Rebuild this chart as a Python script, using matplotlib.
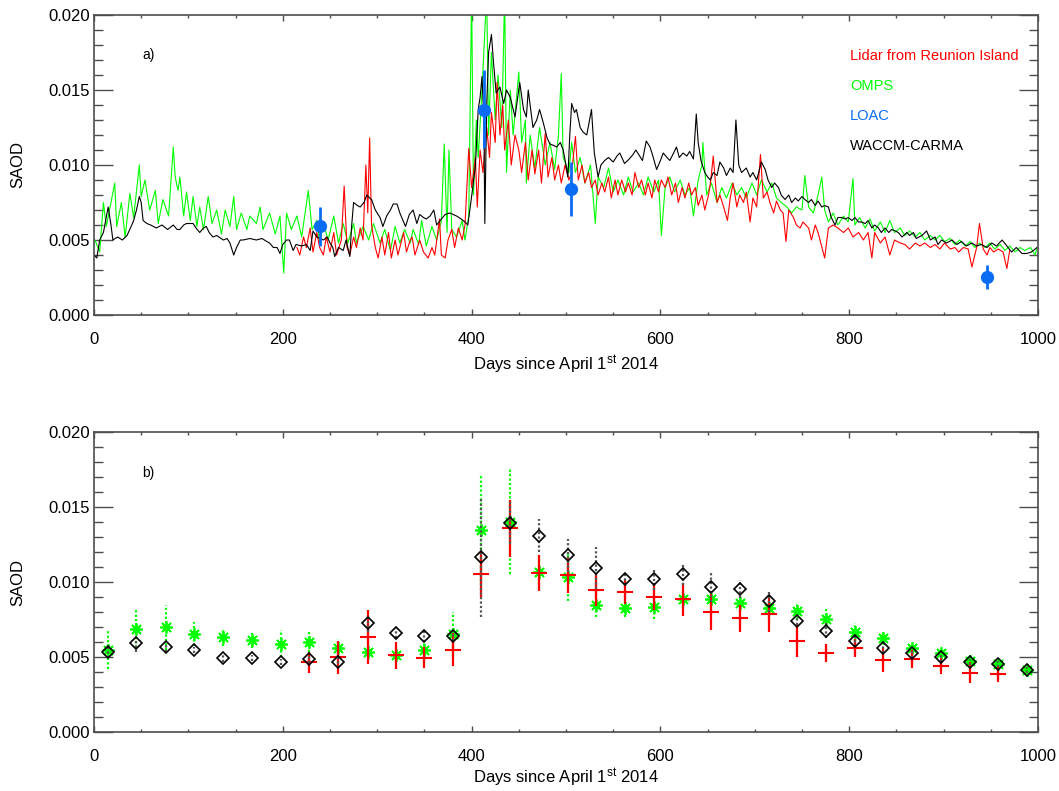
"""Recrea la figura de SAOD: a) series diarias, b) medias mensuales."""
import numpy as np
import matplotlib
matplotlib.use("Agg")
import matplotlib.pyplot as plt
from matplotlib.ticker import MultipleLocator, FormatStrFormatter

plt.rcParams["font.family"] = ["Liberation Sans", "DejaVu Sans"]
plt.rcParams["mathtext.default"] = "regular"

# ---------------- panel a) series diarias ----------------
OMPS_DAY = [1, 6, 10, 13, 22, 24, 29, 33, 38, 42, 48, 50, 54, 59, 65, 68, 73, 79, 84, 86,
            89, 91, 95, 98, 102, 105, 109, 112, 116, 121, 125, 130, 135, 139, 144, 148, 151,
            156, 162, 165, 172, 176, 179, 186, 192, 197, 201, 204, 209, 215, 220, 227, 231,
            236, 239, 243, 248, 254, 259, 264, 269, 275, 278, 285, 291, 296, 303, 308, 314,
            319, 324, 329, 335, 338, 344, 347, 352, 358, 363, 368, 371, 374, 376, 379, 384,
            390, 393, 397, 400, 402, 405, 407, 411, 416, 418, 421, 425, 428, 432, 435, 437,
            441, 444, 450, 453, 457, 458, 462, 467, 472, 478, 483, 488, 492, 495, 497, 503,
            506, 510, 515, 520, 526, 531, 534, 540, 545, 550, 555, 561, 566, 571, 577, 582,
            587, 593, 598, 601, 605, 610, 615, 621, 626, 631, 635, 640, 644, 645, 649, 654,
            660, 665, 670, 676, 681, 686, 691, 697, 702, 707, 713, 718, 723, 728, 734, 739,
            744, 750, 753, 757, 762, 767, 771, 774, 778, 783, 788, 794, 799, 804, 806, 811,
            817, 822, 827, 833, 838, 843, 848, 854, 859, 864, 870, 875, 880, 886, 891, 896,
            901, 907, 912, 917, 923, 928, 933, 938, 944, 949, 954, 960, 965, 970, 976, 981,
            986, 992, 997, 999]
OMPS_SAOD = [0.0050, 0.0042, 0.0075, 0.0059, 0.0088, 0.0059, 0.0075, 0.0052, 0.0081, 0.0065,
             0.0100, 0.0079, 0.0090, 0.0070, 0.0083, 0.0061, 0.0077, 0.0066, 0.0112, 0.0092,
             0.0083, 0.0092, 0.0066, 0.0082, 0.0063, 0.0079, 0.0059, 0.0072, 0.0057, 0.0079,
             0.0061, 0.0070, 0.0054, 0.0070, 0.0059, 0.0079, 0.0057, 0.0068, 0.0057, 0.0066,
             0.0061, 0.0072, 0.0057, 0.0068, 0.0054, 0.0066, 0.0028, 0.0068, 0.0057, 0.0066,
             0.0052, 0.0083, 0.0057, 0.0063, 0.0048, 0.0061, 0.0050, 0.0066, 0.0048, 0.0061,
             0.0048, 0.0061, 0.0048, 0.0059, 0.0050, 0.0061, 0.0048, 0.0057, 0.0043, 0.0059,
             0.0048, 0.0057, 0.0048, 0.0057, 0.0047, 0.0063, 0.0046, 0.0059, 0.0050, 0.0063,
             0.0114, 0.0055, 0.0110, 0.0057, 0.0052, 0.0063, 0.0050, 0.0066, 0.0215, 0.0080,
             0.0130, 0.0105, 0.0150, 0.0215, 0.0120, 0.0175, 0.0130, 0.0160, 0.0125, 0.0215,
             0.0095, 0.0150, 0.0120, 0.0162, 0.0115, 0.0130, 0.0088, 0.0120, 0.0098, 0.0125,
             0.0100, 0.0115, 0.0097, 0.0120, 0.0161, 0.0105, 0.0095, 0.0115, 0.0095, 0.0105,
             0.0088, 0.0100, 0.0061, 0.0092, 0.0085, 0.0098, 0.0082, 0.0090, 0.0080, 0.0092,
             0.0082, 0.0088, 0.0080, 0.0092, 0.0082, 0.0090, 0.0053, 0.0085, 0.0092, 0.0082,
             0.0090, 0.0080, 0.0085, 0.0066, 0.0090, 0.0100, 0.0115, 0.0080, 0.0088, 0.0075,
             0.0085, 0.0078, 0.0088, 0.0080, 0.0085, 0.0078, 0.0088, 0.0080, 0.0090, 0.0082,
             0.0088, 0.0078, 0.0075, 0.0072, 0.0068, 0.0072, 0.0070, 0.0093, 0.0072, 0.0068,
             0.0080, 0.0092, 0.0070, 0.0062, 0.0068, 0.0060, 0.0066, 0.0062, 0.0091, 0.0060,
             0.0065, 0.0058, 0.0064, 0.0056, 0.0062, 0.0055, 0.0063, 0.0055, 0.0058, 0.0053,
             0.0056, 0.0052, 0.0055, 0.0050, 0.0053, 0.0050, 0.0053, 0.0049, 0.0051, 0.0047,
             0.0050, 0.0046, 0.0049, 0.0045, 0.0048, 0.0045, 0.0048, 0.0044, 0.0047, 0.0043,
             0.0046, 0.0042, 0.0045, 0.0043, 0.0045, 0.0040, 0.0045]

LIDAR_DAY = [215, 218, 222, 225, 229, 232, 236, 239, 243, 246, 250, 254, 257, 262, 265, 268,
             271, 275, 278, 282, 285, 288, 290, 292, 294, 298, 301, 305, 308, 312, 315, 319,
             322, 328, 331, 335, 337, 340, 345, 349, 354, 358, 361, 366, 368, 372, 375, 379,
             382, 386, 390, 393, 397, 400, 404, 406, 409, 412, 416, 419, 421, 425, 427, 430,
             433, 435, 439, 442, 446, 450, 453, 457, 460, 464, 467, 471, 474, 478, 481, 485,
             488, 492, 495, 499, 503, 506, 510, 513, 517, 520, 524, 527, 531, 534, 538, 541,
             545, 548, 552, 555, 559, 563, 566, 570, 573, 577, 580, 584, 587, 591, 594, 598,
             601, 605, 608, 612, 616, 619, 623, 626, 630, 633, 637, 640, 644, 647, 651, 653,
             656, 660, 663, 667, 671, 674, 677, 681, 684, 688, 691, 695, 698, 702, 706, 709,
             713, 716, 720, 723, 727, 730, 733, 736, 741, 744, 748, 751, 757, 760, 764, 767,
             774, 778, 783, 788, 794, 799, 804, 810, 815, 820, 824, 827, 833, 838, 843, 848,
             854, 859, 864, 870, 875, 880, 886, 891, 896, 901, 907, 912, 916, 921, 926, 930,
             935, 938, 942, 946, 949, 953, 958, 963, 967, 970]
LIDAR_SAOD = [0.0045, 0.0040, 0.0052, 0.0045, 0.0058, 0.0042, 0.0055, 0.0045, 0.0040, 0.0052,
              0.0042, 0.0055, 0.0040, 0.0050, 0.0086, 0.0045, 0.0040, 0.0052, 0.0045, 0.0058,
              0.0050, 0.0100, 0.0068, 0.0118, 0.0060, 0.0045, 0.0038, 0.0052, 0.0040, 0.0055,
              0.0038, 0.0050, 0.0040, 0.0055, 0.0042, 0.0050, 0.0052, 0.0040, 0.0050, 0.0042,
              0.0038, 0.0045, 0.0040, 0.0064, 0.0040, 0.0038, 0.0050, 0.0057, 0.0045, 0.0058,
              0.0050, 0.0060, 0.0111, 0.0085, 0.0105, 0.0072, 0.0110, 0.0095, 0.0125, 0.0105,
              0.0135, 0.0115, 0.0155, 0.0120, 0.0140, 0.0110, 0.0130, 0.0100, 0.0120, 0.0110,
              0.0095, 0.0115, 0.0090, 0.0110, 0.0094, 0.0110, 0.0088, 0.0121, 0.0092, 0.0105,
              0.0090, 0.0100, 0.0088, 0.0100, 0.0090, 0.0095, 0.0119, 0.0090, 0.0100, 0.0088,
              0.0095, 0.0085, 0.0090, 0.0080, 0.0088, 0.0082, 0.0092, 0.0078, 0.0090, 0.0080,
              0.0090, 0.0082, 0.0088, 0.0080, 0.0095, 0.0085, 0.0090, 0.0080, 0.0088, 0.0078,
              0.0090, 0.0082, 0.0090, 0.0085, 0.0092, 0.0080, 0.0088, 0.0075, 0.0085, 0.0078,
              0.0088, 0.0080, 0.0085, 0.0073, 0.0080, 0.0070, 0.0080, 0.0088, 0.0106, 0.0075,
              0.0080, 0.0072, 0.0063, 0.0078, 0.0088, 0.0072, 0.0080, 0.0075, 0.0082, 0.0062,
              0.0078, 0.0072, 0.0107, 0.0078, 0.0082, 0.0075, 0.0068, 0.0076, 0.0070, 0.0068,
              0.0049, 0.0070, 0.0065, 0.0060, 0.0058, 0.0062, 0.0058, 0.0050, 0.0060, 0.0055,
              0.0038, 0.0058, 0.0060, 0.0058, 0.0055, 0.0058, 0.0052, 0.0055, 0.0050, 0.0055,
              0.0038, 0.0055, 0.0048, 0.0052, 0.0040, 0.0050, 0.0048, 0.0047, 0.0044, 0.0048,
              0.0046, 0.0048, 0.0045, 0.0047, 0.0044, 0.0048, 0.0044, 0.0045, 0.0042, 0.0045,
              0.0044, 0.0032, 0.0045, 0.0061, 0.0044, 0.0040, 0.0045, 0.0042, 0.0044, 0.0042,
              0.0031, 0.0043]

WACCM_DAY = [0, 3, 6, 10, 13, 15, 18, 20, 25, 30, 35, 40, 42, 45, 48, 50, 52, 56, 60, 66,
             72, 78, 84, 88, 91, 95, 98, 105, 108, 112, 116, 119, 122, 126, 130, 137, 141, 144,
             148, 151, 155, 158, 165, 172, 178, 183, 186, 190, 194, 197, 200, 204, 207, 211,
             214, 220, 225, 229, 232, 236, 243, 247, 250, 253, 255, 259, 264, 267, 271, 273,
             275, 279, 282, 286, 289, 292, 294, 298, 303, 306, 310, 314, 317, 321, 324, 326,
             330, 334, 338, 342, 345, 349, 352, 356, 360, 363, 368, 372, 377, 384, 389, 393,
             396, 400, 404, 407, 409, 411, 413, 414, 416, 418, 421, 423, 426, 430, 434, 437,
             441, 446, 451, 455, 458, 460, 465, 469, 472, 476, 480, 483, 487, 490, 494, 497,
             500, 502, 504, 506, 509, 511, 515, 518, 522, 525, 527, 530, 534, 537, 541, 545,
             550, 554, 557, 562, 567, 571, 574, 578, 581, 585, 589, 592, 596, 600, 603, 607,
             610, 614, 617, 620, 624, 628, 631, 635, 638, 640, 643, 647, 650, 653, 656, 660,
             663, 667, 670, 674, 677, 680, 683, 686, 691, 695, 698, 702, 707, 711, 714, 718,
             721, 725, 728, 732, 736, 739, 743, 746, 750, 753, 757, 760, 764, 767, 771, 774,
             778, 781, 785, 788, 792, 796, 799, 803, 806, 810, 813, 817, 820, 824, 827, 831,
             834, 838, 842, 845, 849, 852, 856, 861, 864, 868, 871, 877, 882, 886, 891, 894,
             898, 903, 909, 914, 919, 924, 930, 935, 940, 946, 951, 956, 962, 967, 972, 977,
             983, 988, 993, 999]
WACCM_SAOD = [0.0040, 0.0038, 0.0050, 0.0055, 0.0065, 0.0072, 0.0060, 0.0050, 0.0052, 0.0050,
              0.0053, 0.0060, 0.0063, 0.0070, 0.0079, 0.0075, 0.0063, 0.0061, 0.0060, 0.0058,
              0.0060, 0.0057, 0.0060, 0.0057, 0.0057, 0.0060, 0.0061, 0.0061, 0.0058, 0.0055,
              0.0058, 0.0059, 0.0055, 0.0052, 0.0053, 0.0050, 0.0051, 0.0048, 0.0040, 0.0045,
              0.0050, 0.0050, 0.0051, 0.0050, 0.0051, 0.0049, 0.0048, 0.0045, 0.0045, 0.0041,
              0.0047, 0.0050, 0.0050, 0.0043, 0.0047, 0.0046, 0.0047, 0.0043, 0.0056, 0.0052,
              0.0050, 0.0052, 0.0048, 0.0045, 0.0039, 0.0045, 0.0043, 0.0050, 0.0039, 0.0060,
              0.0075, 0.0073, 0.0072, 0.0075, 0.0080, 0.0078, 0.0077, 0.0070, 0.0065, 0.0059,
              0.0066, 0.0070, 0.0074, 0.0074, 0.0068, 0.0065, 0.0059, 0.0067, 0.0070, 0.0061,
              0.0067, 0.0065, 0.0064, 0.0066, 0.0070, 0.0060, 0.0064, 0.0067, 0.0068, 0.0066,
              0.0064, 0.0062, 0.0060, 0.0079, 0.0099, 0.0137, 0.0145, 0.0159, 0.0130, 0.0061,
              0.0140, 0.0175, 0.0187, 0.0170, 0.0148, 0.0152, 0.0141, 0.0150, 0.0145, 0.0132,
              0.0155, 0.0137, 0.0132, 0.0150, 0.0125, 0.0130, 0.0137, 0.0128, 0.0118, 0.0114,
              0.0113, 0.0112, 0.0115, 0.0110, 0.0100, 0.0092, 0.0120, 0.0141, 0.0135, 0.0137,
              0.0125, 0.0122, 0.0120, 0.0130, 0.0137, 0.0108, 0.0092, 0.0100, 0.0103, 0.0105,
              0.0102, 0.0106, 0.0108, 0.0101, 0.0104, 0.0107, 0.0110, 0.0106, 0.0103, 0.0116,
              0.0112, 0.0106, 0.0097, 0.0103, 0.0108, 0.0105, 0.0103, 0.0108, 0.0112, 0.0105,
              0.0108, 0.0106, 0.0109, 0.0104, 0.0134, 0.0115, 0.0103, 0.0095, 0.0092, 0.0090,
              0.0095, 0.0093, 0.0102, 0.0098, 0.0093, 0.0098, 0.0095, 0.0130, 0.0100, 0.0095,
              0.0098, 0.0092, 0.0095, 0.0090, 0.0102, 0.0097, 0.0090, 0.0085, 0.0088, 0.0085,
              0.0080, 0.0077, 0.0080, 0.0075, 0.0078, 0.0076, 0.0079, 0.0077, 0.0075, 0.0077,
              0.0073, 0.0076, 0.0072, 0.0073, 0.0072, 0.0065, 0.0060, 0.0065, 0.0065, 0.0064,
              0.0065, 0.0063, 0.0065, 0.0062, 0.0062, 0.0061, 0.0063, 0.0058, 0.0060, 0.0058,
              0.0055, 0.0058, 0.0055, 0.0057, 0.0056, 0.0055, 0.0052, 0.0055, 0.0053, 0.0055,
              0.0051, 0.0053, 0.0056, 0.0050, 0.0052, 0.0047, 0.0050, 0.0048, 0.0050, 0.0047,
              0.0049, 0.0046, 0.0048, 0.0046, 0.0047, 0.0045, 0.0048, 0.0046, 0.0050, 0.0046,
              0.0042, 0.0045, 0.0041, 0.0041, 0.0042, 0.0045]

LOAC_DAY = [239, 413, 505, 946]
LOAC_SAOD = [0.0059, 0.0137, 0.0084, 0.0025]
LOAC_ERR = [0.0013, 0.0026, 0.0018, 0.0008]

# ---------------- panel b) medias mensuales ----------------
MONTH_DAY = [15, 45, 76, 106, 137, 167, 198, 228, 259, 290, 320, 350, 380, 410, 441, 471, 502,
             532, 563, 593, 624, 654, 684, 715, 745, 775, 806, 836, 867, 897, 928, 958, 988]
NAN = float("nan")
LIDAR_MEAN = [NAN, NAN, NAN, NAN, NAN, NAN, NAN, 0.00464, 0.00498, 0.00636, 0.00513, 0.00496,
              0.00547, 0.01053, 0.01358, 0.0106, 0.0105, 0.00947, 0.00936, 0.00902, 0.00884,
              0.00802, 0.00758, 0.00787, 0.00609, 0.00524, 0.00558, 0.0048, 0.00484, 0.0044,
              0.00396, 0.00384, NAN]
LIDAR_STD = [NAN, NAN, NAN, NAN, NAN, NAN, NAN, 0.0007, 0.0011, 0.0018, 0.0009, 0.0007, 0.0011,
             0.0015, 0.0019, 0.0012, 0.0012, 0.0011, 0.0008, 0.0009, 0.0011, 0.0012, 0.0009,
             0.0012, 0.0011, 0.0006, 0.0006, 0.0008, 0.0006, 0.0004, 0.0007, 0.0004, NAN]
OMPS_MEAN = [0.00547, 0.00689, 0.00698, 0.00653, 0.00631, 0.00613, 0.00587, 0.00602, 0.00562,
             0.00536, 0.00513, 0.00547, 0.00653, 0.01347, 0.01402, 0.01064, 0.01036, 0.00847,
             0.00824, 0.00836, 0.00884, 0.00887, 0.00858, 0.00829, 0.00809, 0.00756, 0.00669,
             0.00629, 0.00562, 0.00529, 0.00473, 0.00451, 0.00413]
OMPS_STD = [0.0013, 0.0013, 0.0015, 0.0008, 0.0006, 0.0005, 0.0009, 0.0007, 0.0006, 0.0007,
            0.0004, 0.0006, 0.0015, 0.0037, 0.0035, 0.0011, 0.0016, 0.0008, 0.0006, 0.0008,
            0.0006, 0.0005, 0.0006, 0.0006, 0.0006, 0.0007, 0.0006, 0.0004, 0.0003, 0.0003,
            0.0003, 0.0002, 0.0002]
WACCM_MEAN = [0.00536, 0.00596, 0.00564, 0.00547, 0.00496, 0.00496, 0.00464, 0.00487, 0.00469,
              0.00724, 0.00658, 0.0064, 0.0064, 0.01169, 0.01396, 0.01307, 0.0118, 0.01096,
              0.01018, 0.01018, 0.01053, 0.00964, 0.00953, 0.00873, 0.00742, 0.00676, 0.00609,
              0.00558, 0.00524, 0.00498, 0.00469, 0.00451, 0.00413]
WACCM_STD = [0.0004, 0.0006, 0.0003, 0.0002, 0.0003, 0.0002, 0.0002, 0.0003, 0.0004, 0.0006,
             0.0003, 0.0004, 0.0003, 0.0040, 0.0014, 0.0011, 0.0011, 0.0014, 0.0004, 0.0007,
             0.0007, 0.0010, 0.0006, 0.0007, 0.0003, 0.0005, 0.0004, 0.0003, 0.0003, 0.0003,
             0.0002, 0.0002, 0.0002]

RED = "#ff0000"
GREEN = "#00ff00"
BLUE = "#0a6cf5"
AXIS_GREY = "#4d4d4d"
FIG_W, FIG_H = 1059, 791


def style_axes(ax):
    """Ejes estilo IDL: ticks hacia dentro en los cuatro lados."""
    ax.set_xlim(0, 1000)
    ax.set_ylim(0, 0.020)
    ax.xaxis.set_major_locator(MultipleLocator(200))
    ax.xaxis.set_minor_locator(MultipleLocator(50))
    ax.yaxis.set_major_locator(MultipleLocator(0.005))
    ax.yaxis.set_minor_locator(MultipleLocator(0.001))
    ax.yaxis.set_major_formatter(FormatStrFormatter("%.3f"))
    ax.tick_params(which="both", direction="in", top=True, right=True,
                   color=AXIS_GREY, width=1.0, labelsize=12)
    ax.tick_params(axis="x", which="major", length=4.3, pad=12)
    ax.tick_params(axis="x", which="minor", length=2.2)
    ax.tick_params(axis="y", which="major", length=13.7, pad=3)
    ax.tick_params(axis="y", which="minor", length=6.8)
    for spine in ax.spines.values():
        spine.set_color(AXIS_GREY)
        spine.set_linewidth(1.2)


def add_labels(fig, top_px, xlabel_dy):
    """Etiquetas de ejes colocadas en píxeles de la figura."""
    fig.text(18 / FIG_W, 1 - (top_px + 150) / FIG_H, "SAOD", rotation=90,
             ha="center", va="center", fontsize=12)
    fig.text(566 / FIG_W, 1 - (top_px + xlabel_dy) / FIG_H,
             "Days since April 1$^{st}$ 2014", ha="center", va="center", fontsize=12)


def plot_daily(ax):
    ax.plot(OMPS_DAY, OMPS_SAOD, color=GREEN, lw=0.8)
    ax.plot(LIDAR_DAY, LIDAR_SAOD, color=RED, lw=0.8)
    ax.plot(WACCM_DAY, WACCM_SAOD, color="black", lw=0.8)
    ax.errorbar(LOAC_DAY, LOAC_SAOD, yerr=LOAC_ERR, fmt="o", color=BLUE,
                ms=8.5, elinewidth=2.0, capsize=0, zorder=5)
    ax.text(51, 0.0173, "a)", fontsize=10, va="center")
    legend = [("Lidar from Reunion Island", RED), ("OMPS", GREEN),
              ("LOAC", BLUE), ("WACCM-CARMA", "black")]
    for i, (name, col) in enumerate(legend):
        ax.text(801, 0.0173 - i * 0.002, name, color=col, fontsize=10.5, va="center")


def plot_monthly(ax):
    x = np.array(MONTH_DAY)
    specs = [
        (OMPS_MEAN, OMPS_STD, GREEN, (0, (1, 1)),
         dict(marker=(8, 2, 0), ms=9, mew=1.3, color=GREEN)),
        (LIDAR_MEAN, LIDAR_STD, RED, "solid",
         dict(marker="+", ms=11, mew=1.5, color=RED)),
        (WACCM_MEAN, WACCM_STD, "#555555", (0, (1, 1)),
         dict(marker="D", ms=6.5, mew=1.2, mfc="none", color="black")),
    ]
    for mean, std, ecol, ls, mk in specs:
        mean = np.array(mean)
        std = np.array(std)
        ax.vlines(x, mean - std, mean + std, colors=ecol, linestyles=ls, lw=1.6)
        ax.plot(x, mean, ls="none", **mk)
    ax.text(51, 0.0173, "b)", fontsize=10, va="center")


def main():
    fig = plt.figure(figsize=(FIG_W / 100, FIG_H / 100), dpi=100)
    left, width, height = 94 / FIG_W, 944 / FIG_W, 300 / FIG_H
    ax_a = fig.add_axes([left, 1 - 315 / FIG_H, width, height])
    ax_b = fig.add_axes([left, 1 - 732 / FIG_H, width, height])

    plot_daily(ax_a)
    plot_monthly(ax_b)
    for ax in (ax_a, ax_b):
        style_axes(ax)
    add_labels(fig, 15, 350)
    add_labels(fig, 432, 346)

    fig.savefig("out.png", dpi=100)
    plt.close(fig)


if __name__ == "__main__":
    main()
